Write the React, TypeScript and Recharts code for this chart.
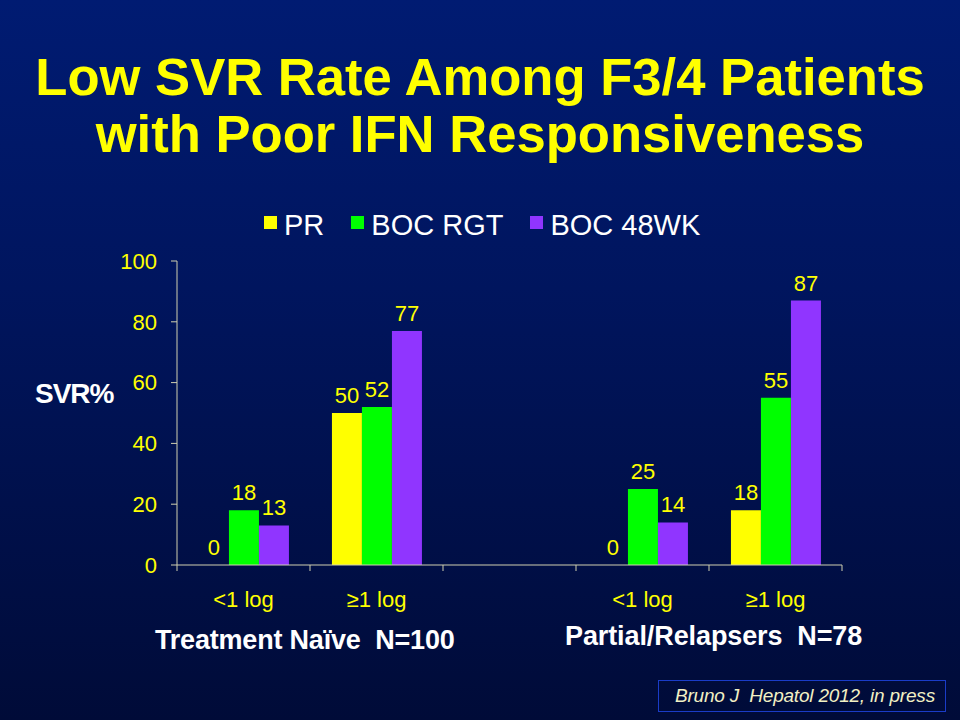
import { Bar, BarChart, LabelList, XAxis, YAxis } from 'recharts'

const CATEGORIES = ['<1 log', '\u22651 log', '', '<1 log', '\u22651 log']
const PR = [0, 50, null, 0, 18]
const BOC_RGT = [18, 52, null, 25, 55]
const BOC_48WK = [13, 77, null, 14, 87]
const Y_TICKS = [0, 20, 40, 60, 80, 100]

const SERIES = [
  { key: 'pr', name: 'PR', color: '#ffff00' },
  { key: 'rgt', name: 'BOC RGT', color: '#00ff00' },
  { key: 'wk48', name: 'BOC 48WK', color: '#9035ff' },
]

const FONT = '"Liberation Sans", Arial, sans-serif'
const AXIS = '#d0d0b0'
const YELLOW = '#ffff00'

// plot box in page pixels
const PLOT_LEFT = 177
const PLOT_RIGHT = 842
const PLOT_TOP = 261
const PLOT_BOTTOM = 565
const BAND = (PLOT_RIGHT - PLOT_LEFT) / CATEGORIES.length

const data = CATEGORIES.map((c, i) => ({
  id: `c${i}`,
  label: c,
  pr: PR[i],
  rgt: BOC_RGT[i],
  wk48: BOC_48WK[i],
}))

// zero values still need a (invisible) bar so the "0" label gets placed
const keepZero = (value: any) => (value === 0 ? 0.01 : 0)

function CategoryTick(props: any) {
  const { x, y, index } = props
  const label = CATEGORIES[index]
  const left = x - BAND / 2
  const right = x + BAND / 2
  return (
    <g>
      <line x1={left} y1={y} x2={left} y2={y + 6} stroke={AXIS} strokeWidth={1} />
      {index === CATEGORIES.length - 1 && (
        <line x1={right} y1={y} x2={right} y2={y + 6} stroke={AXIS} strokeWidth={1} />
      )}
      <text x={x} y={y + 42} textAnchor="middle" fill={YELLOW} fontSize={22} fontFamily={FONT}>
        {label}
      </text>
    </g>
  )
}

function ValueLabel(props: any) {
  const { x, y, width, value } = props
  if (value === null || value === undefined) return null
  return (
    <text
      x={Number(x) + Number(width) / 2}
      y={Number(y) - 10}
      textAnchor="middle"
      fill={YELLOW}
      fontSize={22}
      fontFamily={FONT}
    >
      {value}
    </text>
  )
}

export default function App() {
  return (
    <div
      style={{
        position: 'relative',
        width: 960,
        height: 720,
        overflow: 'hidden',
        background: 'linear-gradient(180deg, #001b72 0%, #00155e 40%, #000b38 100%)',
        fontFamily: FONT,
      }}
    >
      <style>{'body{margin:0}'}</style>
      <div
        style={{
          position: 'absolute',
          top: 48,
          left: 0,
          width: 960,
          textAlign: 'center',
          color: YELLOW,
          fontWeight: 'bold',
          fontSize: 52.6,
          lineHeight: '57px',
        }}
      >
        Low SVR Rate Among F3/4 Patients
        <br />
        with Poor IFN Responsiveness
      </div>

      {/* legend */}
      <div
        style={{
          position: 'absolute',
          top: 209,
          left: 264,
          display: 'flex',
          alignItems: 'flex-start',
          color: '#ffffff',
          fontSize: 29,
          lineHeight: '32px',
        }}
      >
        {SERIES.map((s) => (
          <div key={s.key} style={{ display: 'flex', alignItems: 'flex-start', marginRight: 27 }}>
            <span
              style={{ width: 13, height: 13, background: s.color, marginTop: 7, marginRight: 7 }}
            />
            <span>{s.name}</span>
          </div>
        ))}
      </div>

      <div
        style={{
          position: 'absolute',
          top: 378,
          left: 35,
          color: '#ffffff',
          fontWeight: 'bold',
          fontSize: 28,
          lineHeight: '32px',
          letterSpacing: -1,
        }}
      >
        SVR%
      </div>

      <div style={{ position: 'absolute', top: 0, left: 0 }}>
        <BarChart
          width={960}
          height={720}
          data={data}
          margin={{ top: PLOT_TOP, right: 960 - PLOT_RIGHT, bottom: 720 - PLOT_BOTTOM - 30, left: PLOT_LEFT - 60 }}
          barCategoryGap="16.5%"
          barGap={0}
        >
          <XAxis
            dataKey="id"
            height={30}
            axisLine={{ stroke: AXIS }}
            tickLine={false}
            tickSize={0}
            tickMargin={0}
            interval={0}
            tick={<CategoryTick />}
          />
          <YAxis
            width={60}
            domain={[0, 100]}
            ticks={Y_TICKS}
            interval={0}
            axisLine={{ stroke: AXIS }}
            tickLine={{ stroke: AXIS }}
            tickSize={6}
            tickMargin={14}
            tick={{ fill: YELLOW, fontSize: 22, fontFamily: FONT }}
          />
          {SERIES.map((s) => (
            <Bar
              key={s.key}
              dataKey={s.key}
              name={s.name}
              fill={s.color}
              minPointSize={keepZero}
              isAnimationActive={false}
            >
              <LabelList dataKey={s.key} content={<ValueLabel />} />
            </Bar>
          ))}
        </BarChart>
      </div>

      <div
        style={{
          position: 'absolute',
          top: 624,
          left: 155,
          color: '#ffffff',
          fontWeight: 'bold',
          fontSize: 27,
          lineHeight: '32px',
          letterSpacing: -0.2,
          whiteSpace: 'pre',
        }}
      >
        {'Treatment Na\u00efve  N=100'}
      </div>
      <div
        style={{
          position: 'absolute',
          top: 620,
          left: 565,
          color: '#ffffff',
          fontWeight: 'bold',
          fontSize: 27,
          lineHeight: '32px',
          letterSpacing: -0.1,
          whiteSpace: 'pre',
        }}
      >
        {'Partial/Relapsers  N=78'}
      </div>

      <div
        style={{
          position: 'absolute',
          top: 680,
          left: 658,
          width: 288,
          height: 32,
          border: '1px solid #1a3cc8',
          boxSizing: 'border-box',
          color: '#f2f0c4',
          fontStyle: 'italic',
          fontSize: 19,
          lineHeight: '30px',
          paddingLeft: 16,
          letterSpacing: -0.2,
          whiteSpace: 'pre',
        }}
      >
        {'Bruno J  Hepatol 2012, in press'}
      </div>
    </div>
  )
}
